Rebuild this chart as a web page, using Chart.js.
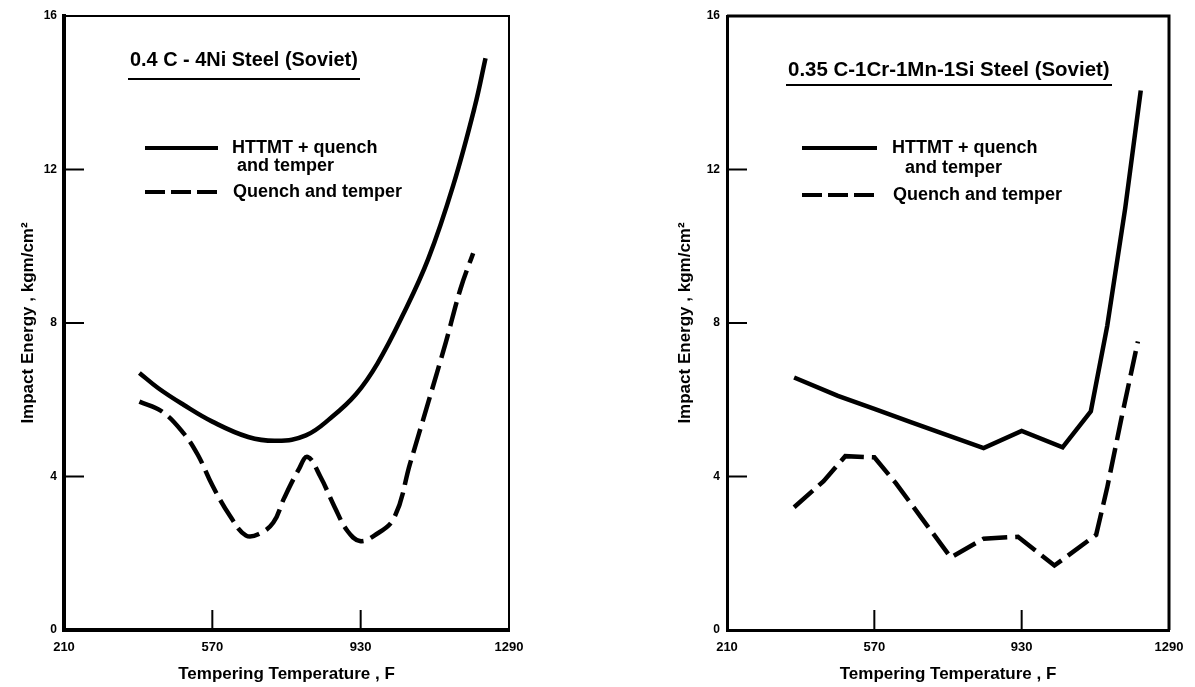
<!DOCTYPE html>
<html><head><meta charset="utf-8">
<script src="https://cdn.jsdelivr.net/npm/chart.js@4.4.0/dist/chart.umd.min.js"></script>
<style>
html,body{margin:0;padding:0;background:#fff;width:1195px;height:687px;overflow:hidden}
#w1{position:absolute;left:0;top:0;width:597px;height:687px}
#w2{position:absolute;left:597px;top:0;width:598px;height:687px}
</style></head><body>
<div id="w1"><canvas id="c1"></canvas></div>
<div id="w2"><canvas id="c2"></canvas></div>
<script>
// ---- tick labels / text ----
const xTickValues = [210, 570, 930, 1290];
const yTickValues = [0, 4, 8, 12, 16];
const innerXTicks = [570, 930];
const innerYTicks = [4, 8, 12];
const leftTitle = '0.4 C - 4Ni Steel (Soviet)';
const rightTitle = '0.35 C-1Cr-1Mn-1Si Steel (Soviet)';
const legendLine1 = 'HTTMT + quench';
const legendLine2 = 'and temper';
const legendLine3 = 'Quench and temper';
const xAxisTitle = 'Tempering Temperature , F';
const yAxisTitle = 'Impact Energy , kgm/cm²';

// ---- left panel: 0.4C-4Ni ----
const leftHttmtTemp   = [393, 439, 500, 570, 657, 727, 797, 858, 919, 971, 1032, 1094, 1155, 1207, 1233];
const leftHttmtEnergy = [6.70, 6.30, 5.87, 5.43, 5.03, 4.93, 5.07, 5.53, 6.15, 6.95, 8.2, 9.67, 11.6, 13.64, 14.9];
const leftQtTemp   = [393, 447, 500, 535, 570, 613, 652, 683, 718, 744, 779, 801, 832, 867, 898, 928, 963, 1011, 1050, 1094, 1137, 1172, 1203];
const leftQtEnergy = [5.95, 5.70, 5.13, 4.56, 3.77, 2.97, 2.46, 2.50, 2.80, 3.43, 4.17, 4.51, 4.0, 3.2, 2.58, 2.32, 2.46, 2.92, 4.34, 5.93, 7.51, 8.88, 9.82];

// ---- right panel: 0.35C-1Cr-1Mn-1Si ----
const rightHttmtTemp   = [374, 481, 570, 659, 748, 837, 930, 1030, 1099, 1139, 1183, 1221];
const rightHttmtEnergy = [6.58, 6.10, 5.76, 5.42, 5.08, 4.74, 5.19, 4.76, 5.70, 7.92, 10.99, 14.06];
const rightQtTemp   = [374, 446, 499, 570, 623, 686, 757, 837, 921, 1010, 1112, 1139, 1174, 1214];
const rightQtEnergy = [3.20, 3.88, 4.53, 4.50, 3.82, 2.91, 1.89, 2.38, 2.43, 1.68, 2.48, 3.71, 5.53, 7.52];

const FONT = '"Liberation Sans", Arial, sans-serif';

function pts(xs, ys) { return xs.map((v, i) => ({x: v, y: ys[i]})); }

const decor = {
  id: 'decor',
  afterDraw(chart, args, o) {
    const {ctx, chartArea: a, scales: {x, y}} = chart;
    ctx.save();
    ctx.strokeStyle = '#000';
    ctx.fillStyle = '#000';
    ctx.lineCap = 'butt';
    // top / right frame
    ctx.lineWidth = o.frameWidth;
    ctx.beginPath();
    ctx.moveTo(a.left, a.top); ctx.lineTo(a.right, a.top); ctx.lineTo(a.right, a.bottom);
    ctx.stroke();
    // inward tick marks
    ctx.lineWidth = 2;
    innerYTicks.forEach(v => {
      const py = y.getPixelForValue(v);
      ctx.beginPath(); ctx.moveTo(a.left, py); ctx.lineTo(a.left + 20, py); ctx.stroke();
    });
    innerXTicks.forEach(v => {
      const px = x.getPixelForValue(v);
      ctx.beginPath(); ctx.moveTo(px, a.bottom); ctx.lineTo(px, a.bottom - 20); ctx.stroke();
    });
    // panel title with underline
    ctx.textBaseline = 'middle';
    ctx.textAlign = 'left';
    ctx.font = 'bold 20px ' + FONT;
    const w0 = ctx.measureText(o.title).width;
    const fs = 20 * o.titleWidth / w0;
    ctx.font = 'bold ' + fs.toFixed(2) + 'px ' + FONT;
    const tx = a.left + o.titleDx, ty = a.top + o.titleDy;
    ctx.fillText(o.title, tx, ty);
    ctx.lineWidth = 2;
    ctx.beginPath(); ctx.moveTo(tx - 2, ty + o.ulDy); ctx.lineTo(tx + o.titleWidth + 2, ty + o.ulDy); ctx.stroke();
    // legend
    const L = o.legend;
    ctx.lineWidth = 4;
    ctx.beginPath(); ctx.moveTo(a.left + L.x, a.top + L.y1); ctx.lineTo(a.left + L.x + L.len, a.top + L.y1); ctx.stroke();
    ctx.setLineDash([20, 6]);
    ctx.beginPath(); ctx.moveTo(a.left + L.x, a.top + L.y3); ctx.lineTo(a.left + L.x + L.len, a.top + L.y3); ctx.stroke();
    ctx.setLineDash([]);
    ctx.font = 'bold 18px ' + FONT;
    ctx.fillText(legendLine1, a.left + L.t1, a.top + L.y1);
    ctx.fillText(legendLine2, a.left + L.t2, a.top + L.y2);
    ctx.fillText(legendLine3, a.left + L.t3, a.top + L.y3);
    ctx.restore();
  }
};

function makeChart(id, cfg) {
  return new Chart(document.getElementById(id), {
    type: 'line',
    data: {
      datasets: [
        {label: 'HTTMT + quench and temper', data: pts(cfg.ht[0], cfg.ht[1]), borderColor: '#000', borderWidth: 4.5,
         pointRadius: 0, tension: cfg.tension, fill: false},
        {label: 'Quench and temper', data: pts(cfg.qt[0], cfg.qt[1]), borderColor: '#000', borderWidth: 4.5,
         borderDash: [25, 8], pointRadius: 0, tension: cfg.tension, fill: false}
      ]
    },
    options: {
      responsive: true, maintainAspectRatio: false, animation: false,
      layout: {padding: {top: 16, right: cfg.padRight, bottom: 0, left: 0}},
      plugins: {legend: {display: false}, tooltip: {enabled: false}, decor: cfg.decor},
      scales: {
        x: {
          type: 'linear', min: 210, max: 1290,
          afterBuildTicks: s => { s.ticks = xTickValues.map(v => ({value: v})); },
          afterFit: s => { s.height = 57; },
          grid: {display: false, drawTicks: false},
          border: {display: true, width: cfg.axisWidth, color: '#000'},
          ticks: {color: '#000', padding: 10, maxRotation: 0, autoSkip: false, callback: v => String(v),
                  font: {family: FONT, size: 13, weight: 'bold'}},
          title: {display: true, text: xAxisTitle, color: '#000', padding: {top: 0, bottom: 2}, font: {family: FONT, size: 17, weight: 'bold'}}
        },
        y: {
          type: 'linear', min: 0, max: 16,
          afterBuildTicks: s => { s.ticks = yTickValues.map(v => ({value: v})); },
          afterFit: s => { s.width = cfg.yWidth; },
          grid: {display: false, drawTicks: false},
          border: {display: true, width: cfg.axisWidth, color: '#000'},
          ticks: {color: '#000', padding: 7, callback: v => String(v), font: {family: FONT, size: 12, weight: 'bold'}},
          title: {display: true, text: yAxisTitle, color: '#000', padding: {top: cfg.yTitlePad, bottom: 0}, font: {family: FONT, size: 17, weight: 'bold'}}
        }
      }
    },
    plugins: [decor]
  });
}

makeChart('c1', {
  ht: [leftHttmtTemp, leftHttmtEnergy], qt: [leftQtTemp, leftQtEnergy],
  tension: 0.4, padRight: 88, yWidth: 64, yTitlePad: 18, axisWidth: 4,
  decor: {frameWidth: 2, title: leftTitle, titleDx: 66, titleDy: 45, ulDy: 18, titleWidth: 228,
          legend: {x: 81, len: 73, y1: 132, y2: 150, y3: 176, t1: 168, t2: 173, t3: 169}}
});
makeChart('c2', {
  ht: [rightHttmtTemp, rightHttmtEnergy], qt: [rightQtTemp, rightQtEnergy],
  tension: 0, padRight: 26, yWidth: 130, yTitlePad: 78, axisWidth: 3,
  decor: {frameWidth: 3, title: rightTitle, titleDx: 61, titleDy: 54, ulDy: 15, titleWidth: 322,
          legend: {x: 75, len: 75, y1: 132, y2: 152, y3: 179, t1: 165, t2: 178, t3: 166}}
});
</script>
</body></html>
